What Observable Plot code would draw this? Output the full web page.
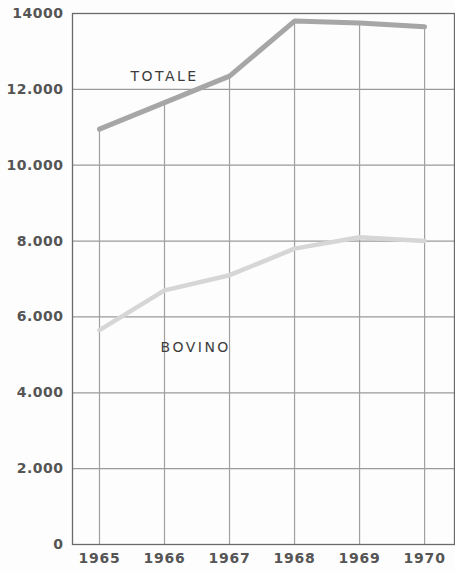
<!DOCTYPE html>
<html>
<head>
<meta charset="utf-8">
<script src="https://cdn.jsdelivr.net/npm/d3@7"></script>
<script src="https://cdn.jsdelivr.net/npm/@observablehq/plot@0.6"></script>
<style>
  html, body { margin: 0; padding: 0; background: #fdfdfd; }
  svg { display: block; }
  .serieslabel text { letter-spacing: 2.5px; }
  .ylab text { letter-spacing: 0.5px; }
  .xlab text { letter-spacing: 0.8px; }
</style>
</head>
<body>
<div id="chart"></div>
<script>
const years = [1965, 1966, 1967, 1968, 1969, 1970];
const totale = [10950, 11650, 12350, 13800, 13750, 13650];
const bovino = [5650, 6700, 7100, 7800, 8100, 8000];
const yTicks = [0, 2000, 4000, 6000, 8000, 10000, 12000, 14000];
const yTickLabels = ["0", "2.000", "4.000", "6.000", "8.000", "10.000", "12.000", "14000"];
const seriesLabels = [
  {name: "TOTALE", year: 1966, value: 12350},
  {name: "BOVINO", year: 1966.48, value: 5200}
];

const rows = years.map((y, i) => ({year: y, totale: totale[i], bovino: bovino[i]}));
const gridY = yTicks.filter(v => v > 0 && v < 14000);

const chart = Plot.plot({
  width: 455,
  height: 573,
  marginLeft: 72,
  marginRight: 1,
  marginTop: 13,
  marginBottom: 29,
  style: {background: "#fdfdfd", fontFamily: "DejaVu Sans, sans-serif"},
  x: {domain: [1964.585, 1970.46]},
  y: {domain: [0, 14000]},
  marks: [
    Plot.ruleY(gridY, {stroke: "#9a9a9a", strokeWidth: 1.2}),
    Plot.ruleX(rows, {x: "year", y1: 0, y2: "totale", stroke: "#a0a0a0", strokeWidth: 1.2}),
    Plot.frame({stroke: "#6a6a6a", strokeWidth: 1.3}),
    Plot.line(rows, {x: "year", y: "bovino", stroke: "#d6d6d6", strokeWidth: 4.5, strokeLinejoin: "round"}),
    Plot.line(rows, {x: "year", y: "totale", stroke: "#a6a6a6", strokeWidth: 5, strokeLinejoin: "miter"}),
    Plot.text(seriesLabels, {x: "year", y: "value", text: "name", fill: "#3c3c3c", fontSize: 14, fontWeight: 500, className: "serieslabel"}),
    Plot.axisY({ticks: yTicks, tickFormat: (d) => yTickLabels[yTicks.indexOf(d)], tickSize: 0, tickPadding: 9, label: null, fontSize: 14, fontWeight: 600, fill: "#555", className: "ylab"}),
    Plot.axisX({ticks: years, tickFormat: d => String(d), tickSize: 0, tickPadding: 9, label: null, fontSize: 14, fontWeight: 700, fill: "#555", className: "xlab"})
  ]
});
document.getElementById("chart").appendChild(chart);
</script>
</body>
</html>
